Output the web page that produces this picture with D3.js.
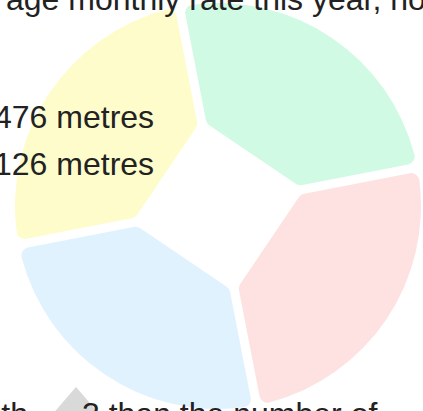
<!DOCTYPE html>
<html><head><meta charset="utf-8">
<script src="https://cdn.jsdelivr.net/npm/d3@7"></script>
<style>html,body{margin:0;padding:0;background:#fff;overflow:hidden}</style>
</head><body>
<svg id="chart" width="423" height="411"></svg>
<script>
// ---- data ----
const categories = ["Segment A", "Segment B", "Segment C", "Segment D"];
const values = [25, 25, 25, 25];
const colors = ["#d1fae5", "#fee2e2", "#e0f2fe", "#fefccb"];
const titleText = "age monthly rate this year, how";
const labelLines = ["476 metres", "126 metres"];
const footLeft = "month";
const footRight = "3 than the number of";

// ---- layout ----
const W = 423, H = 411;
const cx = 218, cy = 206, R = 203, chordDist = 62, halfPad = 4.5, rcOut = 8, rcIn = 9;
const startAngle = -11 * Math.PI / 180;
const font = "'Liberation Sans', Arial, Helvetica, sans-serif";

const svg = d3.select("#chart");
const pie = d3.pie().sort(null).value(d => d.value)
  .startAngle(startAngle).endAngle(startAngle + 2 * Math.PI);
const arcs = pie(categories.map((c, i) => ({ name: c, value: values[i], color: colors[i] })));

function slicePath(a0, a1) {
  const u = a => [Math.sin(a), -Math.cos(a)];
  const n = a => [Math.cos(a), Math.sin(a)];
  const am = (a0 + a1) / 2;
  const u0 = u(a0), n0 = n(a0), u1 = u(a1), n1 = n(a1);
  const s = Math.sqrt((R - rcOut) ** 2 - (halfPad + rcOut) ** 2);
  const C0 = [s * u0[0] + (halfPad + rcOut) * n0[0], s * u0[1] + (halfPad + rcOut) * n0[1]];
  const C1 = [s * u1[0] - (halfPad + rcOut) * n1[0], s * u1[1] - (halfPad + rcOut) * n1[1]];
  const T0l = [s * u0[0] + halfPad * n0[0], s * u0[1] + halfPad * n0[1]];
  const T1l = [s * u1[0] - halfPad * n1[0], s * u1[1] - halfPad * n1[1]];
  const k = R / (R - rcOut);
  const T0c = [C0[0] * k, C0[1] * k], T1c = [C1[0] * k, C1[1] * k];
  const ri0 = (chordDist - halfPad * Math.sin(am - a0)) / Math.cos(am - a0);
  const ri1 = (chordDist - halfPad * Math.sin(a1 - am)) / Math.cos(a1 - am);
  const I0 = [ri0 * u0[0] + halfPad * n0[0], ri0 * u0[1] + halfPad * n0[1]];
  const I1 = [ri1 * u1[0] - halfPad * n1[0], ri1 * u1[1] - halfPad * n1[1]];
  const ang = (p, c) => Math.atan2(p[1] - c[1], p[0] - c[0]);
  const p = d3.path();
  p.moveTo(T0l[0], T0l[1]);
  p.arc(C0[0], C0[1], rcOut, ang(T0l, C0), ang(T0c, C0), false);
  p.arc(0, 0, R, ang(T0c, [0, 0]), ang(T1c, [0, 0]), false);
  p.arc(C1[0], C1[1], rcOut, ang(T1c, C1), ang(T1l, C1), false);
  p.arcTo(I1[0], I1[1], I0[0], I0[1], rcIn);
  p.arcTo(I0[0], I0[1], T0l[0], T0l[1], rcIn);
  p.closePath();
  return p.toString();
}

const g = svg.append("g").attr("transform", `translate(${cx},${cy})`);
g.selectAll("path.slice").data(arcs).join("path")
  .attr("class", "slice")
  .attr("d", d => slicePath(d.startAngle, d.endAngle))
  .attr("fill", d => d.data.color);

// title (cropped at the top edge)
svg.append("text").attr("x", 6).attr("y", 10)
  .attr("font-family", font).attr("font-size", 32).attr("fill", "#222")
  .text(titleText);

// labels
svg.selectAll("text.lbl").data(labelLines).join("text")
  .attr("class", "lbl")
  .attr("x", -6).attr("y", (d, i) => 128 + i * 46.5)
  .attr("font-family", font).attr("font-size", 32).attr("fill", "#222")
  .text(d => d);

// gray triangle marker
svg.append("path")
  .attr("d", d3.line()([[76, 387], [114, 431], [38, 431]]) + "Z")
  .attr("fill", "#d9d9d9");

// footer (cropped at the bottom edge)
svg.append("text").attr("x", 28).attr("y", 425).attr("text-anchor", "end")
  .attr("font-family", font).attr("font-size", 32).attr("fill", "#222")
  .text(footLeft);
svg.append("text").attr("x", 82).attr("y", 425)
  .attr("font-family", font).attr("font-size", 32).attr("fill", "#222")
  .text(footRight);
</script>
</body></html>
